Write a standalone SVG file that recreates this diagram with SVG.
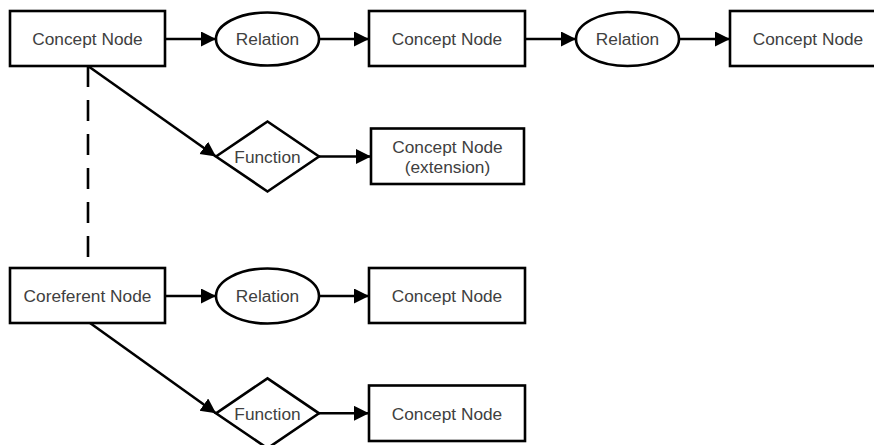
<svg xmlns="http://www.w3.org/2000/svg" width="874" height="445" viewBox="0 0 874 445">
  <style>
    .shape { fill: #ffffff; stroke: #000000; stroke-width: 2.6; }
    .edge { fill: none; stroke: #000000; stroke-width: 2.6; }
    .arrow { marker-end: url(#head); }
    .dash { stroke-dasharray: 21 13; }
    .label { font-family: "Liberation Sans", Arial, sans-serif; font-size: 17.3px; fill: #404040; text-anchor: middle; }
  </style>
  <defs>
    <marker id="head" markerUnits="userSpaceOnUse" markerWidth="16" markerHeight="16" refX="15" refY="7.5" orient="auto">
      <path d="M0,0 L15,7.5 L0,15 z" fill="#000000"/>
    </marker>
  </defs>
  <rect width="874" height="445" fill="#ffffff"/>

  <!-- connectors -->
  <g id="connectors">
    <line class="edge arrow" x1="165" y1="39" x2="216" y2="39"/>
    <line class="edge arrow" x1="319" y1="39" x2="369" y2="39"/>
    <line class="edge arrow" x1="525" y1="39" x2="576" y2="39"/>
    <line class="edge arrow" x1="679" y1="39" x2="730" y2="39"/>
    <line class="edge arrow" x1="88" y1="66" x2="216" y2="156.5"/>
    <line class="edge arrow" x1="319" y1="156.5" x2="371" y2="156.5"/>
    <line class="edge dash" x1="88" y1="66" x2="88" y2="268"/>
    <line class="edge arrow" x1="165" y1="296" x2="216" y2="296"/>
    <line class="edge arrow" x1="319" y1="296" x2="369" y2="296"/>
    <line class="edge arrow" x1="90" y1="323" x2="216" y2="413.3"/>
    <line class="edge arrow" x1="319" y1="413.3" x2="369" y2="413.3"/>
  </g>

  <!-- top row -->
  <g id="concept-1">
    <rect class="shape" x="10" y="11" width="155" height="55"/>
    <text class="label" x="87.5" y="45">Concept Node</text>
  </g>
  <g id="relation-1">
    <ellipse class="shape" cx="267.5" cy="39" rx="51.5" ry="26.5"/>
    <text class="label" x="267.5" y="45">Relation</text>
  </g>
  <g id="concept-2">
    <rect class="shape" x="369" y="11" width="156" height="55"/>
    <text class="label" x="447" y="45">Concept Node</text>
  </g>
  <g id="relation-2">
    <ellipse class="shape" cx="627.5" cy="39" rx="51.5" ry="27"/>
    <text class="label" x="627.5" y="45">Relation</text>
  </g>
  <g id="concept-3">
    <rect class="shape" x="730" y="11" width="156" height="55"/>
    <text class="label" x="808" y="45">Concept Node</text>
  </g>

  <!-- function branch of the first concept -->
  <g id="function-1">
    <polygon class="shape" points="216,156.5 267.5,121.5 319,156.5 267.5,191.5"/>
    <text class="label" x="267.5" y="162.5">Function</text>
  </g>
  <g id="concept-extension">
    <rect class="shape" x="371" y="128.5" width="153" height="55.5"/>
    <text class="label" x="447.5" y="153">Concept Node</text>
    <text class="label" x="447.5" y="172.5">(extension)</text>
  </g>

  <!-- coreferent row -->
  <g id="coreferent">
    <rect class="shape" x="10" y="268" width="155" height="55"/>
    <text class="label" x="87.5" y="302">Coreferent Node</text>
  </g>
  <g id="relation-3">
    <ellipse class="shape" cx="267.5" cy="296" rx="51.5" ry="27.5"/>
    <text class="label" x="267.5" y="302">Relation</text>
  </g>
  <g id="concept-4">
    <rect class="shape" x="369" y="268" width="156" height="55"/>
    <text class="label" x="447" y="302">Concept Node</text>
  </g>
  <g id="function-2">
    <polygon class="shape" points="216,413.3 267.5,378.3 319,413.3 267.5,448.3"/>
    <text class="label" x="267.5" y="419.5">Function</text>
  </g>
  <g id="concept-5">
    <rect class="shape" x="369" y="385.5" width="156" height="55.5"/>
    <text class="label" x="447" y="419.5">Concept Node</text>
  </g>
</svg>
